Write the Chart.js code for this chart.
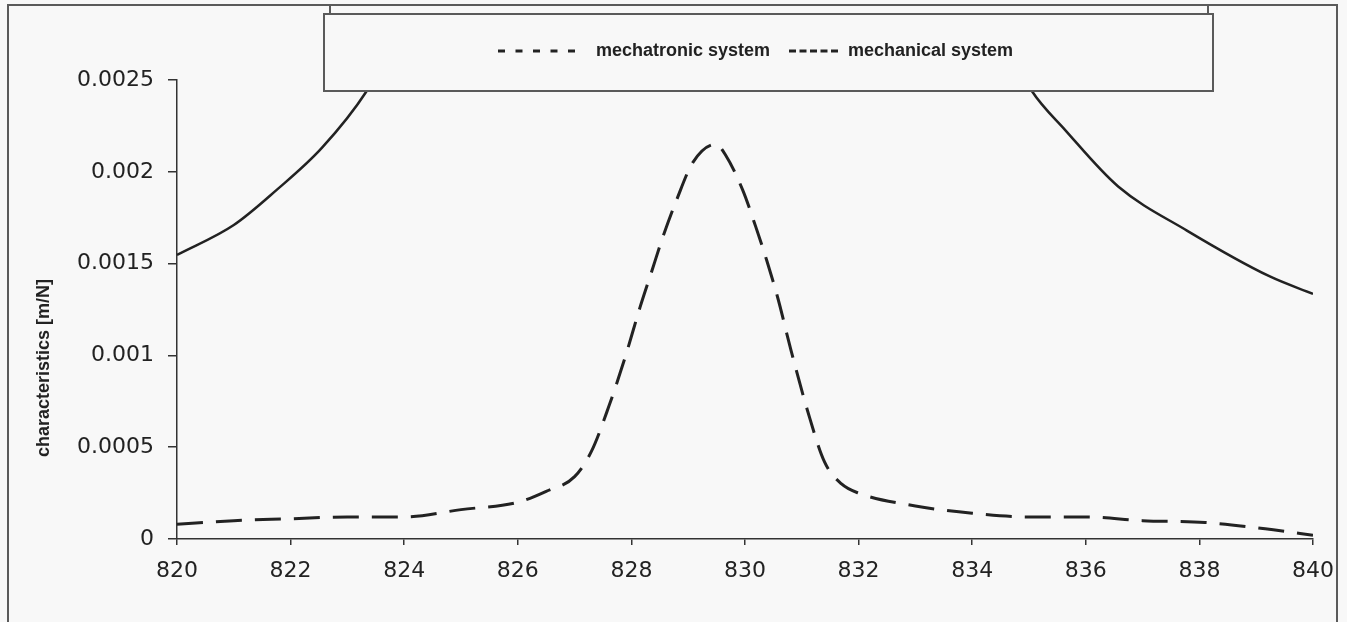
<!DOCTYPE html>
<html>
<head>
<meta charset="utf-8">
<script src="https://cdn.jsdelivr.net/npm/chart.js@4.4.1/dist/chart.umd.min.js"></script>
<style>
  html, body { margin: 0; padding: 0; background: #f8f8f8; }
  #wrap { width: 1347px; height: 622px; position: relative; }
</style>
</head>
<body>
<div id="wrap"><canvas id="chart-characteristics"></canvas></div>
<script>
// frequency axis and compliance curves
const freqMechatronic = [820, 821, 822, 823, 824, 825, 826, 826.5, 827, 827.3, 827.6, 827.9, 828.15, 828.36, 828.56, 828.8, 829.08, 829.49, 829.66, 829.96, 830.19, 830.39, 830.58, 830.8, 831.1, 831.4, 831.7, 832, 833, 834, 835, 836, 837, 838.1, 839.3, 840];
const mechatronic = [0.00008, 0.0001, 0.00011, 0.00012, 0.00012, 0.00016, 0.0002, 0.00026, 0.00034, 0.00048, 0.00072, 0.001, 0.00126, 0.00146, 0.00165, 0.00185, 0.00205, 0.00215, 0.00209, 0.0019, 0.0017, 0.00151, 0.00131, 0.00104, 0.0007, 0.00042, 0.0003, 0.00025, 0.00018, 0.00014, 0.00012, 0.00012, 0.0001, 0.00009, 0.00005, 0.00002];

const freqMechanical = [820, 821, 821.75, 822.55, 823.34, 823.8, 829.2, 834.6, 835.05, 835.63, 836.57, 837.78, 839.24, 840];
const mechanical = [0.001547, 0.00171, 0.0019, 0.00213, 0.00244, 0.0027, null, 0.0027, 0.00244, 0.00223, 0.00192, 0.00168, 0.00143, 0.001335];

const yTickLabels = ['0', '0.0005', '0.001', '0.0015', '0.002', '0.0025'];
const xTickLabels = ['820', '822', '824', '826', '828', '830', '832', '834', '836', '838', '840'];
const seriesLabels = ['mechatronic system', 'mechanical system'];
const yTitle = 'characteristics [m/N]';

const toPoints = (xs, ys) => xs.map((x, i) => ({ x: x, y: ys[i] }));

// outer frame and axis title behind the chart, legend box on top of the curves
const framePlugin = {
  id: 'frame',
  beforeDraw(chart) {
    const ctx = chart.ctx;
    ctx.save();
    ctx.strokeStyle = '#5a5a5a';
    ctx.lineWidth = 2;
    ctx.strokeRect(8, 5, 1329, 640);

    ctx.translate(44, 368);
    ctx.rotate(-Math.PI / 2);
    ctx.fillStyle = '#222';
    ctx.font = 'bold 18px "Liberation Sans", Arial, sans-serif';
    ctx.textAlign = 'center';
    ctx.textBaseline = 'middle';
    ctx.fillText(yTitle, 0, 0);
    ctx.restore();
  },
  afterDraw(chart) {
    const ctx = chart.ctx;
    ctx.save();
    ctx.fillStyle = '#f8f8f8';
    ctx.fillRect(324, 14, 889, 77);
    ctx.strokeStyle = '#5a5a5a';
    ctx.lineWidth = 2;
    ctx.strokeRect(324, 14, 889, 77);
    ctx.beginPath();
    ctx.moveTo(330, 5); ctx.lineTo(330, 14);
    ctx.moveTo(1208, 5); ctx.lineTo(1208, 14);
    ctx.stroke();

    ctx.strokeStyle = '#222';
    ctx.lineWidth = 3;
    ctx.setLineDash([7, 10.5]);
    ctx.beginPath(); ctx.moveTo(498, 51); ctx.lineTo(575, 51); ctx.stroke();
    ctx.setLineDash([7, 3.5]);
    ctx.beginPath(); ctx.moveTo(789, 51); ctx.lineTo(838, 51); ctx.stroke();
    ctx.setLineDash([]);

    ctx.fillStyle = '#222';
    ctx.font = 'bold 18px "Liberation Sans", Arial, sans-serif';
    ctx.textBaseline = 'middle';
    ctx.textAlign = 'left';
    ctx.fillText(seriesLabels[0], 596, 51);
    ctx.fillText(seriesLabels[1], 848, 51);
    ctx.restore();
  },
};

new Chart(document.getElementById('chart-characteristics'), {
  type: 'line',
  data: {
    datasets: [
      {
        label: seriesLabels[0],
        data: toPoints(freqMechatronic, mechatronic),
        borderColor: '#222',
        borderWidth: 3,
        borderDash: [26, 13],
        pointRadius: 0,
        cubicInterpolationMode: 'monotone',
        fill: false,
      },
      {
        label: seriesLabels[1],
        data: toPoints(freqMechanical, mechanical),
        borderColor: '#222',
        borderWidth: 2.5,
        pointRadius: 0,
        cubicInterpolationMode: 'monotone',
        spanGaps: false,
        fill: false,
      },
    ],
  },
  options: {
    responsive: true,
    maintainAspectRatio: false,
    animation: false,
    layout: { padding: { top: 80, right: 34, bottom: 0, left: 0 } },
    plugins: {
      legend: { display: false },
      tooltip: { enabled: false },
    },
    scales: {
      x: {
        type: 'linear',
        min: 820,
        max: 840,
        afterFit: (scale) => { scale.height = 83; },
        ticks: {
          stepSize: 2,
          color: '#222',
          padding: 13,
          maxRotation: 0,
          font: { family: '"DejaVu Sans", sans-serif', size: 22 },
          callback: (value, i) => xTickLabels[i],
        },
        grid: { drawOnChartArea: false, tickLength: 6, color: '#333', lineWidth: 1.5 },
        border: { color: '#333', width: 1.5 },
      },
      y: {
        min: 0,
        max: 0.0025,
        afterFit: (scale) => { scale.width = 177; },
        ticks: {
          stepSize: 0.0005,
          color: '#222',
          padding: 14,
          font: { family: '"DejaVu Sans", sans-serif', size: 22 },
          callback: (value, i) => yTickLabels[i],
        },
        grid: { drawOnChartArea: false, tickLength: 9, color: '#333', lineWidth: 1.5 },
        border: { color: '#333', width: 1.5 },
      },
    },
  },
  plugins: [framePlugin],
});
</script>
</body>
</html>
